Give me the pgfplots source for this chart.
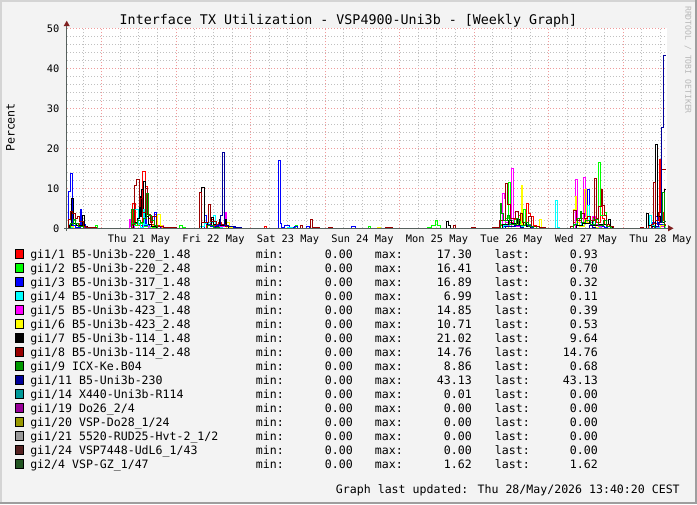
\documentclass[border=0pt]{standalone}
\usepackage{pgfplots}
\pgfplotsset{compat=1.18}
\usepackage{fontspec}
\setmainfont{DejaVu Sans Mono}
\definecolor{bgcol}{HTML}{F3F3F3}
\definecolor{shadeA}{HTML}{D4D4D4}
\definecolor{shadeB}{HTML}{9E9E9E}
\definecolor{mgrid}{HTML}{F09A9A}
\definecolor{mingrid}{HTML}{C0C0C0}
\definecolor{axcol}{HTML}{56605D}
\definecolor{arrcol}{HTML}{7F1F1F}
\definecolor{wmcol}{HTML}{B8B8B8}
\definecolor{c1}{HTML}{FF0000}
\definecolor{c2}{HTML}{00FF00}
\definecolor{c3}{HTML}{0000FF}
\definecolor{c4}{HTML}{00FFFF}
\definecolor{c5}{HTML}{FF00FF}
\definecolor{c6}{HTML}{FFFF00}
\definecolor{c7}{HTML}{000000}
\definecolor{c8}{HTML}{990000}
\definecolor{c9}{HTML}{009900}
\definecolor{c10}{HTML}{000099}
\definecolor{c11}{HTML}{009999}
\definecolor{c12}{HTML}{990099}
\definecolor{c13}{HTML}{999900}
\definecolor{c14}{HTML}{999999}
\definecolor{c15}{HTML}{552222}
\definecolor{c16}{HTML}{225522}
\newcommand{\legrow}[6]{%
  \pgfmathsetmacro{\yb}{258.3+14*#1}%
  \filldraw[fill=#2, draw=black, line width=0.6pt] (15.6,\yb-0.4) rectangle (23,\yb-8.8);
  \node[anchor=base west, inner sep=0pt] at (30,\yb) {#3};
  \node[anchor=base west, inner sep=0pt] at (255.6,\yb) {min:};
  \node[anchor=base east, inner sep=0pt] at (353,\yb) {#4};
  \node[anchor=base west, inner sep=0pt] at (374.7,\yb) {max:};
  \node[anchor=base east, inner sep=0pt] at (472,\yb) {#5};
  \node[anchor=base west, inner sep=0pt] at (494.7,\yb) {last:};
  \node[anchor=base east, inner sep=0pt] at (598,\yb) {#6};
}
\begin{document}
\begin{tikzpicture}
\begin{scope}[x=0.75pt,y=-0.75pt]
\fill[bgcol] (0,0) rectangle (697,504);
\fill[shadeA] (0,0) rectangle (697,2);
\fill[shadeA] (0,0) rectangle (2,504);
\fill[shadeB] (0,502) rectangle (697,504);
\fill[shadeB] (695,0) rectangle (697,504);
\useasboundingbox (0,0) rectangle (697,504);
\end{scope}
\begin{axis}[
  at={(50.25pt,-171.225pt)}, anchor=south west,
  scale only axis, width=450pt, height=150pt,
  xmin=-11.18, xmax=182.1, ymin=0, ymax=50,
  axis line style={draw=none},
  axis background/.style={fill=white},
  tick style={draw=none},
  xtick={12,36,60,84,108,132,156,180},
  xticklabels={Thu 21 May,Fri 22 May,Sat 23 May,Sun 24 May,Mon 25 May,Tue 26 May,Wed 27 May,Thu 28 May},
  xticklabel style={font=\fontsize{7.75}{9}\selectfont, anchor=base, inner sep=0pt, yshift=-10.3pt},
  ytick={0,10,20,30,40,50},
  yticklabel style={font=\fontsize{7.75}{9}\selectfont, anchor=east, inner sep=0pt, xshift=-5.5pt},
  /pgf/number format/assume math mode=true,
  ymajorgrids, yminorgrids, xminorgrids,
  minor ytick={2,4,6,8,12,14,16,18,22,24,26,28,32,34,36,38,42,44,46,48},
  minor xtick={-6,6,12,18,30,36,42,54,60,66,78,84,90,102,108,114,126,132,138,150,156,162,174,180},
  major grid style={draw=mgrid, line width=0.75pt, dash pattern=on 0.75pt off 1.5pt},
  minor grid style={draw=mingrid, line width=0.75pt, dash pattern=on 0.75pt off 1.5pt},
  extra x ticks={0,24,48,72,96,120,144,168},
  extra x tick labels={},
  extra x tick style={grid=major},
  every axis plot/.append style={const plot, line width=0.75pt, mark=none},
]
% gi1/1
\addplot[c1] coordinates {(-11.18,0) (-10.2,0.5) (-9.3,1.2) (-8.3,0.8) (-7.0,1.3) (-6.0,0.3) (-5,0)
 (8.5,0) (9.86,6.1) (10.73,1.5) (11.5,0.8) (13.2,14.3) (14.2,10.4) (14.6,5.4) (15.2,2.5) (16.0,1.0) (16.9,3.5) (17.7,0.8) (19,0.3) (20.5,0)
 (30,0) (33.6,0.8) (35,2.1) (36,0.8) (37.5,1.5) (38.5,0.6) (41,0.3) (43,0)
 (52.6,0.5) (53.2,0)
 (127,0) (128.5,0.8) (130,1.5) (133,2.2) (134,1.0) (136.92,6.25) (137.44,3.75) (138.0,2.9) (139,0.8) (140,0)
 (151,0) (152,1.5) (154,2.5) (156,1.5) (158,2.8) (159.5,1.5) (160.6,9.3) (161.2,2.5) (162,1.0) (163,0.4) (164.5,0)
 (175,0) (176,0.7) (177.5,1.2) (179.54,17.3) (180.09,4.0) (180.9,2.0) (181.25,0.93) (181.67,0.93)};
% gi1/2
\addplot[c2] coordinates {(-11.18,0) (-10.5,0.8) (-9.0,1.9) (-8.3,0.6) (-7.5,0) (-2.16,0.6) (-1.51,0)
 (9,0) (9.5,1.2) (11,0.6) (12,1.2) (13,0.5) (15,1.0) (16,0.3) (18,0)
 (25.2,0.6) (26.1,0.3) (27,0)
 (62.3,0.6) (63.0,0) (85.9,0.4) (86.7,0) (104,0) (105,0.3) (106.3,0.6) (107.38,2.0) (108.12,0.6) (109,0)
 (127.5,0) (128.5,1.0) (130,2.5) (131.0,11.5) (131.8,2.0) (133,1.0) (134.2,3.2) (135,1.2) (135.8,4.6) (136.4,1.0) (138,0.5) (140,0)
 (151.5,0) (152,0.8) (154,1.5) (156,2.0) (157.5,1.0) (158.5,2.5) (160.0,16.41) (160.6,3.2) (162.0,3.9) (162.7,1.0) (164,0.3) (165,0)
 (176,0) (178,0.5) (180,1.0) (181.25,0.7) (181.67,0.7)};
% gi1/3
\addplot[c3] coordinates {(-11.18,0) (-10.7,9.2) (-10.2,13.6) (-9.34,0.6) (-8.5,0.3) (-6.99,4.8) (-6.44,1.0) (-5.3,0.3) (-4.5,0)
 (12,0) (13,0.6) (13.95,3.2) (14.5,0.8) (15.5,0.4) (16.85,4.0) (17.5,0.5) (19,0)
 (32,0) (33.05,3.2) (33.6,1.0) (35,0.4) (37,0.6) (41,0.3) (44,0)
 (56.89,16.89) (57.67,1.2) (58.0,0.3) (59,0.6) (60.5,0.3) (62,0.5) (63,0) (66,0.4) (67,0)
 (80.5,0.5) (81.6,0)
 (128,0) (129.5,0.5) (132,1.2) (133,0.4) (134.5,0.9) (136.5,0.8) (138,0.3) (139,0)
 (152,0) (153,0.6) (154.5,1.5) (156.44,9.6) (157.09,2.0) (158,0.8) (160,0.5) (162,0.2) (163,0)
 (176,0) (177.5,1.5) (178.3,3.0) (179,1.0) (180.5,0.5) (181.25,0.32) (181.67,0.32)};
% gi1/4
\addplot[c4] coordinates {(-11.18,0) (-10.5,1.0) (-9.8,0.3) (-9,0)
 (9.5,0) (10.7,4.6) (11.8,1.0) (12.5,0.3) (13.4,4.6) (13.9,1.0) (15,0.3) (16,0)
 (30,0) (31.5,0.4) (33,1.2) (34.5,1.5) (35.95,3.2) (36.5,1.0) (37.5,0.3) (39,0)
 (59,0) (60,0.3) (61.5,0)
 (128.5,0) (129.5,0.8) (131.5,1.2) (133,0.6) (135,0.5) (136,0)
 (146.04,6.99) (146.78,0.3) (147.5,0)
 (152,0) (153,1.5) (154.5,0.8) (155.5,2.0) (156.44,5.8) (157.09,1.5) (158.5,0.6) (160,0.3) (161,0)
 (176.32,3.1) (176.97,0.6) (178,0.3) (180,0.5) (181.25,0.11) (181.67,0.11)};
% gi1/5
\addplot[c5] coordinates {(-11.18,0) (-10.8,0.6) (-10,0)
 (8.9,2.1) (9.4,0.5) (10.5,0) (14,0) (15,0.5) (16,0) (19.3,0.75) (19.8,0)
 (37,0) (38,0.5) (39.72,4.0) (40.27,0.6) (41,0)
 (128,0) (129.06,8.75) (129.61,7.5) (129.93,1.5) (131,0.5) (131.86,14.85) (132.6,1.0) (133.5,0.5) (135,0.3) (136,0)
 (151,0) (152.48,12.25) (153.13,2.0) (154,1.5) (155.15,12.75) (155.7,3.0) (156.5,1.5) (158,3.0) (159,1.0) (160,0.4) (161,0)
 (178,0) (179,0.5) (181.25,0.39) (181.67,0.39)};
% gi1/6
\addplot[c6] coordinates {(-11.18,0) (-10.2,0.4) (-9,0)
 (15,0) (16,0.8) (17.9,3.5) (18.8,0.6) (19.5,0)
 (39.5,0) (40.3,1.5) (41.1,0.3) (42,0)
 (89,0.3) (89.7,0)
 (130,0) (131,0.5) (133,1.0) (135.08,10.71) (135.63,1.0) (137,0.5) (138,0) (140.88,2.25) (141.75,0)
 (151.5,0) (151.93,4.6) (152.7,7.9) (153.0,1.5) (154,0.5) (155.5,9.6) (156.3,1.5) (157.5,0.6) (159,0.3) (160,0)
 (179,0) (180,0.8) (181.25,0.53) (181.67,0.53)};
% gi1/7
\addplot[c7] coordinates {(-11.18,0) (-10.5,0.8) (-9.66,7.5) (-9.15,1.2) (-8.0,0.6) (-6.12,3.3) (-5.61,0.5) (-4.5,0)
 (9,0) (10.2,4.75) (10.7,1.5) (11.5,2.5) (12.1,7.9) (12.6,3.0) (12.9,9.6) (13.4,5.0) (13.6,11.8) (14.2,3.0) (15,1.0) (16,0.4) (17.5,0)
 (31.5,0) (32.22,10.2) (32.96,1.5) (34,0.8) (35.4,2.75) (36.0,1.0) (37.9,2.3) (38.4,0.8) (39.72,2.1) (40.27,0.5) (41,0)
 (110.92,1.8) (111.66,0.75) (112.5,0)
 (128,0) (129,1.0) (131,2.0) (132,1.2) (134,2.1) (134.6,0.8) (136,1.5) (137,0.4) (138,0)
 (152,0) (153,0.8) (155,1.2) (157,2.0) (158,0.6) (160,1.0) (163.21,2.1) (163.76,0.5) (164.5,0)
 (174.5,0) (175.35,3.6) (176.1,0.8) (177,0.5) (178.48,21.02) (179.12,3.0) (180,1.5) (181.25,9.64) (181.67,9.64)};
% gi1/8
\addplot[c8] coordinates {(-11.18,0) (-10.8,2.1) (-10.2,4.2) (-9.5,3.75) (-8.3,2.5) (-7.7,2.9) (-7.0,1.7) (-5.9,0.4) (-4.8,0.2) (-1.6,0)
 (8.5,0) (9.5,1.0) (10.7,10.8) (11.3,12.1) (12.1,5.4) (12.6,7.5) (13.2,4.0) (14.2,10.0) (14.7,3.5) (15.6,1.5) (16.5,3.0) (17.5,0.5) (20,0.2) (24,0)
 (30.5,0) (31.44,9.0) (32.22,1.5) (34.34,6.0) (34.89,1.8) (37,1.0) (40,0.5) (43,0.2) (45,0)
 (63.88,0.8) (64.76,0) (67.33,2.1) (67.98,0.3) (70,0) (72.9,0.25) (74.5,0)
 (91.3,0.3) (93.7,0) (113.27,0.6) (113.82,0) (119.2,0.3) (120.3,0)
 (126,0.3) (128.3,2.0) (129.93,11.25) (130.8,6.0) (131.8,2.5) (133.3,4.2) (134.2,2.0) (135.0,3.75) (135.6,1.5) (137.4,2.9) (138.3,0.5) (141,0.3) (143,0)
 (150,0) (151,0.5) (151.9,4.4) (153.0,2.0) (154.4,3.75) (155.5,2.5) (156.5,3.0) (157.5,2.0) (158.6,12.5) (159.25,2.5) (160.0,5.5) (160.9,9.6) (161.4,5.8) (162.0,3.3) (162.5,1.0) (163.5,0.4) (165,0)
 (173.5,0.2) (174.5,0) (176.5,0) (177.2,1.0) (177.7,11.4) (178.3,2.0) (179.5,4.0) (180.4,14.76) (181.67,14.76)};
% gi1/9
\addplot[c9] coordinates {(-11.18,0) (-10.2,1.1) (-9.2,2.1) (-8.3,1.2) (-7.5,0.5) (-6,0)
 (9,0) (9.7,4.75) (10.2,1.2) (11.5,2.0) (12.5,1.5) (13.5,2.5) (14.5,8.75) (15.1,3.3) (16.0,2.0) (17,0.8) (18,0)
 (33,0) (34,0.6) (36,0.3) (38,0)
 (127,0) (128.32,6.1) (128.87,3.75) (129.5,2.0) (130.8,3.3) (131.5,1.0) (133.5,2.5) (134.2,0.8) (136.5,1.5) (137.5,0.5) (139,0)
 (151,0) (152,1.0) (153.2,2.5) (154.09,4.2) (154.6,1.5) (156,2.0) (157.5,1.0) (159,2.2) (160,0.8) (161.5,2.0) (162.5,0.5) (164,0)
 (177,0) (178,0.5) (179.5,1.5) (180.7,8.86) (181.25,0.68) (181.67,0.68)};
% gi1/11
\addplot[c10] coordinates {(-11.18,0) (35,0) (36.5,0.5) (37.5,1.0) (38.2,3.2) (38.85,19.0) (39.5,0.6) (41,0.5) (43,0.3) (45,0)
 (129,0) (130,0.5) (133,0.8) (135,0.3) (136,0)
 (155,0) (157,0.8) (158,0.3) (159,0)
 (177,0) (178.5,0.5) (179.5,1.5) (180.41,25.3) (180.92,43.13) (181.67,43.13)};
% gi1/14
\addplot[c11] coordinates {(-11.18,0) (181.67,0)};
% gi1/19
\addplot[c12] coordinates {(-11.18,0) (181.67,0)};
% gi1/20
\addplot[c13] coordinates {(-11.18,0) (181.67,0)};
% gi1/21
\addplot[c14] coordinates {(-11.18,0) (181.67,0)};
% gi1/24
\addplot[c15] coordinates {(-11.18,0) (181.67,0)};
% gi2/4
\addplot[c16] coordinates {(-11.18,0) (181.25,1.62) (181.67,1.62)};
\end{axis}
\begin{scope}[x=0.75pt,y=-0.75pt]
\draw[axcol, line width=0.75pt] (64,228.3) -- (670,228.3);
\draw[axcol, line width=0.75pt] (66.7,231) -- (66.7,25);
\fill[arrcol] (668,225.2) -- (673.5,228.3) -- (668,231.4) -- cycle;
\fill[arrcol] (63.6,26.2) -- (66.7,20.7) -- (69.8,26.2) -- cycle;
\node[anchor=base, inner sep=0pt, font=\fontsize{10}{12}\selectfont] at (348.5,24) {Interface TX Utilization - VSP4900-Uni3b - [Weekly Graph]};
\node[rotate=90, inner sep=0pt, font=\fontsize{8.7}{10}\selectfont] at (10.5,127.5) {Percent};
\node[rotate=-90, inner sep=0pt, text=wmcol, font=\fontsize{6.1}{7}\selectfont] at (688,60) {RRDTOOL / TOBI OETIKER};
\begin{scope}[font=\fontsize{8.68}{10}\selectfont]
\legrow{0}{c1}{gi1/1 B5-Uni3b-220\_1.48}{0.00}{17.30}{0.93}
\legrow{1}{c2}{gi1/2 B5-Uni3b-220\_2.48}{0.00}{16.41}{0.70}
\legrow{2}{c3}{gi1/3 B5-Uni3b-317\_1.48}{0.00}{16.89}{0.32}
\legrow{3}{c4}{gi1/4 B5-Uni3b-317\_2.48}{0.00}{6.99}{0.11}
\legrow{4}{c5}{gi1/5 B5-Uni3b-423\_1.48}{0.00}{14.85}{0.39}
\legrow{5}{c6}{gi1/6 B5-Uni3b-423\_2.48}{0.00}{10.71}{0.53}
\legrow{6}{c7}{gi1/7 B5-Uni3b-114\_1.48}{0.00}{21.02}{9.64}
\legrow{7}{c8}{gi1/8 B5-Uni3b-114\_2.48}{0.00}{14.76}{14.76}
\legrow{8}{c9}{gi1/9 ICX-Ke.B04}{0.00}{8.86}{0.68}
\legrow{9}{c10}{gi1/11 B5-Uni3b-230}{0.00}{43.13}{43.13}
\legrow{10}{c11}{gi1/14 X440-Uni3b-R114}{0.00}{0.01}{0.00}
\legrow{11}{c12}{gi1/19 Do26\_2/4}{0.00}{0.00}{0.00}
\legrow{12}{c13}{gi1/20 VSP-Do28\_1/24}{0.00}{0.00}{0.00}
\legrow{13}{c14}{gi1/21 5520-RUD25-Hvt-2\_1/2}{0.00}{0.00}{0.00}
\legrow{14}{c15}{gi1/24 VSP7448-UdL6\_1/43}{0.00}{0.00}{0.00}
\legrow{15}{c16}{gi2/4 VSP-GZ\_1/47}{0.00}{1.62}{1.62}
\node[anchor=base east, inner sep=0pt] at (680,493.5) {Graph last updated: Thu 28/May/2026 13:40:20 CEST};
\end{scope}
\end{scope}
\end{tikzpicture}
\end{document}
